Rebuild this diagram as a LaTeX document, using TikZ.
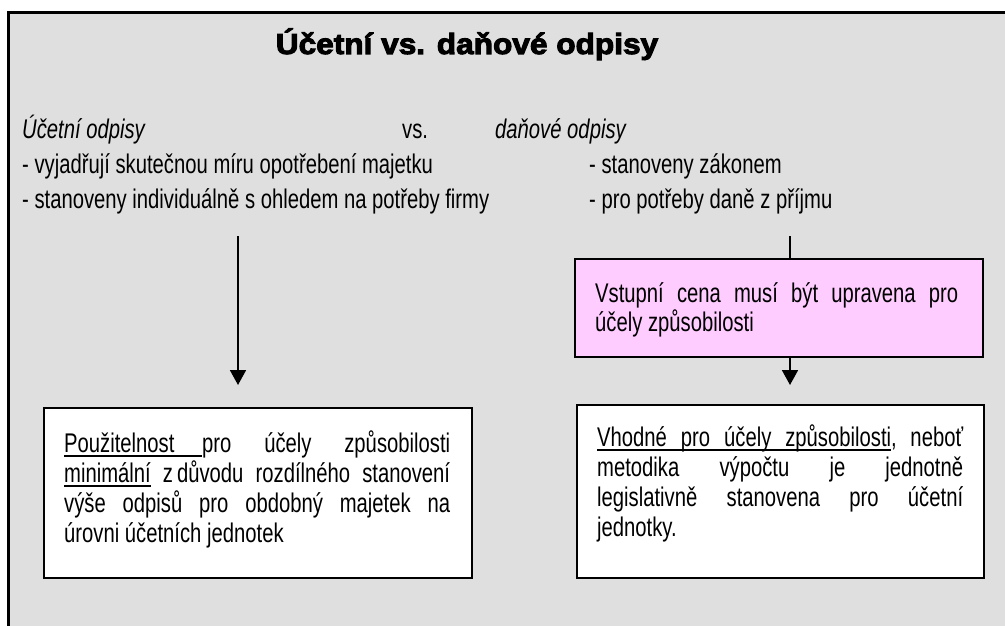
\documentclass[tikz,border=0pt]{standalone}
\usepackage{fontspec}
\usetikzlibrary{arrows.meta}
\setmainfont{Liberation Sans}[FakeStretch=0.75]
\newfontfamily\titlefont{Liberation Sans}[FakeStretch=1.09,BoldFeatures={FakeBold=3.5}]
\definecolor{panel}{RGB}{223,223,223}
\definecolor{pinkfill}{RGB}{255,204,255}
% underline drawn just below the baseline, crossing the descenders
\newlength\ulwidth
\newcommand\wordul[1]{\settowidth\ulwidth{#1}\rlap{\rule[-4.5pt]{\ulwidth}{1.5pt}}#1}
\tikzset{
  txt/.style={anchor=base west,inner sep=0pt,font=\fontsize{27}{30}\selectfont},
  box/.style={draw=black,line width=1.6pt,inner sep=0pt},
  conn/.style={line width=1.8pt},
  arr/.style={conn,-{Triangle[width=16pt,length=15pt]}}
}
\begin{document}
\begin{tikzpicture}[x=1pt,y=-1pt]
\useasboundingbox (0,0) rectangle (1005,626);
% frame
\fill[panel] (8,13) rectangle (1005,626);
\draw[line width=3pt] (8,626) -- (8,13) -- (1005,13);

% title
\node[anchor=base,inner sep=0pt,font=\titlefont\bfseries\fontsize{29}{32}\selectfont] (title) at (467,54) {Účetní vs. daňové odpisy};

% heading lines
\node[txt] (hl) at (22,139) {\itshape Účetní odpisy};
\node[txt] (vs) at (402,139) {vs.};
\node[txt] (hr) at (495,139) {\itshape daňové odpisy};
\node[txt] (l1) at (22,173) {- vyjadřují skutečnou míru opotřebení majetku};
\node[txt] (r1) at (589,173) {- stanoveny zákonem};
\node[txt] (l2) at (22,208) {- stanoveny individuálně s ohledem na potřeby firmy};
\node[txt] (r2) at (589,208) {- pro potřeby daně z příjmu};

% boxes
\node[box,fill=pinkfill,minimum width=408pt,minimum height=98pt,anchor=north west] (pink) at (574,258) {};
\node[box,fill=white,minimum width=428pt,minimum height=170pt,anchor=north west] (lbox) at (43,407) {};
\node[box,fill=white,minimum width=407pt,minimum height=173pt,anchor=north west] (rbox) at (576,404) {};

% pink box text
\node[txt] (p1) at (595,302) {\makebox[363pt][s]{Vstupní cena musí být upravena pro}};
\node[txt] (p2) at (595,331) {účely způsobilosti};

% left box text
\node[txt] (a1) at (64,452) {\makebox[386pt][l]{\wordul{\makebox[138pt][l]{Použitelnost}}pro\hfill účely\hfill způsobilosti}};
\node[txt] (a2) at (64,482) {\makebox[386pt][s]{\wordul{minimální} z\hspace{4pt}důvodu rozdílného stanovení}};
\node[txt] (a3) at (64,512) {\makebox[386pt][s]{výše odpisů pro obdobný majetek na}};
\node[txt] (a4) at (64,542) {úrovni účetních jednotek};

% right box text
\node[txt] (b1) at (597,446) {\makebox[366pt][l]{\wordul{\makebox[294pt][s]{Vhodné pro účely způsobilosti}}, \hfill neboť}};
\node[txt] (b2) at (597,476) {\makebox[366pt][s]{metodika výpočtu je jednotně}};
\node[txt] (b3) at (597,506) {\makebox[366pt][s]{legislativně stanovena pro účetní}};
\node[txt] (b4) at (597,536) {jednotky.};

% connectors
\coordinate (ls) at (238,236);
\coordinate (le) at (238,385);
\coordinate (rs) at (790,236);
\coordinate (re) at (790,385);
\draw[arr] (ls) -- (le);
\draw[conn] (rs) -- (rs |- pink.north);
\draw[arr] (rs |- pink.south) -- (re);
\end{tikzpicture}
\end{document}
